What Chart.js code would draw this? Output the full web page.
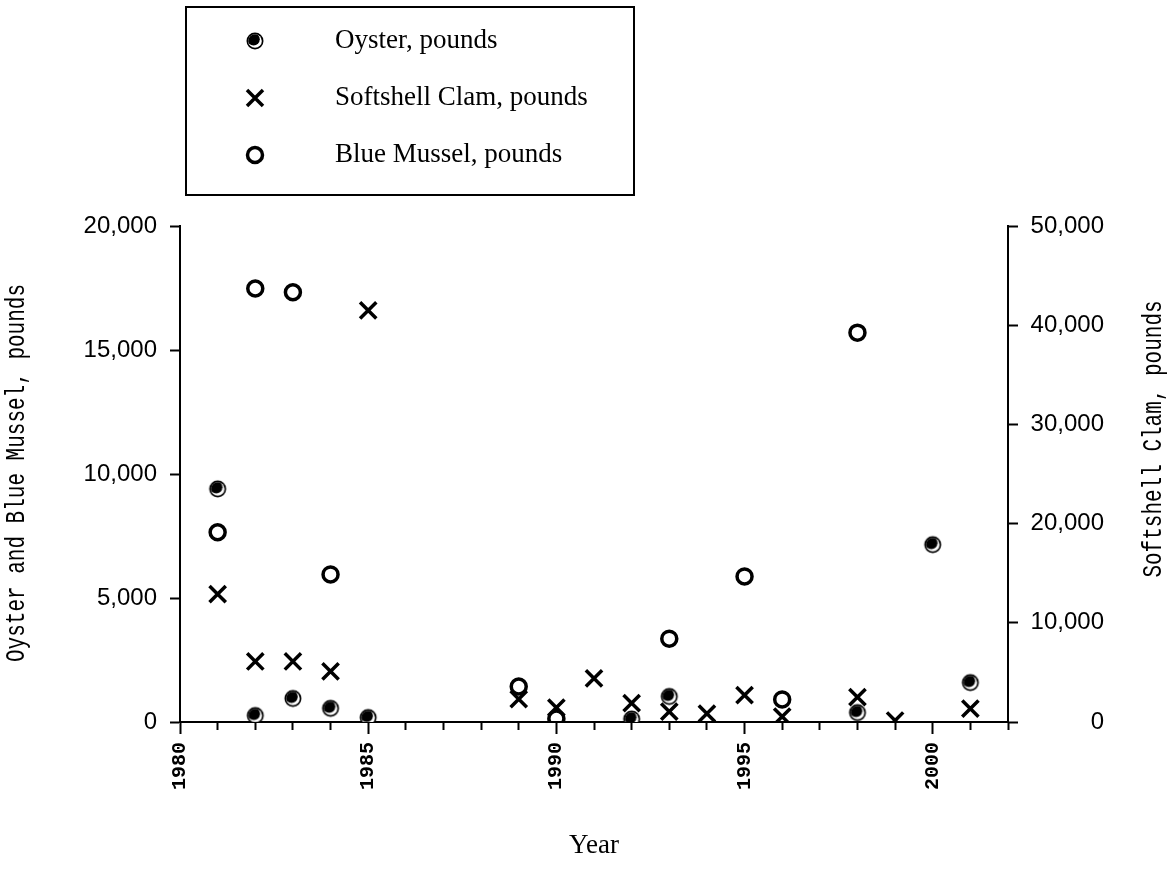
<!DOCTYPE html>
<html>
<head>
<meta charset="utf-8">
<title>Oyster, Softshell Clam and Blue Mussel</title>
<script src="https://cdn.jsdelivr.net/npm/chart.js@4.4.1/dist/chart.umd.min.js"></script>
<style>
  body { margin: 0; background: #fff; }
  #chart { display: block; }
</style>
</head>
<body>
<canvas id="chart" width="1170" height="890"></canvas>
<script>
// values (pounds per year)
const oysterYears = [1981, 1982, 1983, 1984, 1985, 1992, 1993, 1998, 2000, 2001];
const oysterLbs   = [9400, 260, 950, 550, 180, 120, 1030, 380, 7150, 1590];

const clamYears = [1981, 1982, 1983, 1984, 1985, 1989, 1990, 1991, 1992, 1993, 1994, 1995, 1996, 1998, 1999, 2001];
const clamLbs   = [12900, 6100, 6100, 5100, 41500, 2300, 1450, 4400, 1900, 1050, 850, 2700, 550, 2500, 150, 1350];

const musselYears = [1981, 1982, 1983, 1984, 1989, 1990, 1993, 1995, 1996, 1998];
const musselLbs   = [7650, 17480, 17330, 5950, 1430, 140, 3360, 5870, 910, 15700];

const seriesLabels = ['Oyster, pounds', 'Softshell Clam, pounds', 'Blue Mussel, pounds'];
const leftTitle = 'Oyster and Blue Mussel, pounds';
const rightTitle = 'Softshell Clam, pounds';

const toPoints = (xs, ys) => xs.map((x, i) => ({ x: x, y: ys[i] }));
const fmt = v => v.toLocaleString('en-US');

// half filled circle used for the oysters
function oysterMarker() {
  const c = document.createElement('canvas');
  c.width = 22; c.height = 22;
  const g = c.getContext('2d');
  g.fillStyle = '#000';
  g.beginPath(); g.arc(11, 11, 8.5, 0, Math.PI * 2); g.fill();
  g.save();
  g.beginPath(); g.arc(11, 11, 6.8, 0, Math.PI * 2); g.clip();
  g.fillStyle = '#fff'; g.fillRect(0, 0, 22, 22);
  g.fillStyle = '#000';
  g.beginPath(); g.arc(9.6, 9.3, 6.2, 0, Math.PI * 2); g.fill();
  g.restore();
  return c;
}
const oysterImg = oysterMarker();

function rotatedTitle(ctx, text, x, y) {
  ctx.save();
  ctx.translate(x, y);
  ctx.rotate(-Math.PI / 2);
  ctx.scale(1, 1.3);
  ctx.font = '21px "Liberation Mono"';
  ctx.fillStyle = '#000';
  ctx.textAlign = 'center';
  ctx.textBaseline = 'middle';
  ctx.fillText(text, 0, 0);
  ctx.restore();
}

// legend box + axis titles on the sides (drawn by hand)
const extras = {
  id: 'extras',
  afterDraw(chart) {
    const ctx = chart.ctx;
    ctx.save();
    ctx.strokeStyle = '#000';
    ctx.lineWidth = 2;
    ctx.strokeRect(186, 7, 448, 188);

    const rows = [41, 98, 155];
    const mx = 255;
    ctx.drawImage(oysterImg, mx - 11, rows[0] - 11);

    ctx.lineWidth = 3.5;
    ctx.beginPath();
    ctx.moveTo(mx - 8, rows[1] - 8); ctx.lineTo(mx + 8, rows[1] + 8);
    ctx.moveTo(mx + 8, rows[1] - 8); ctx.lineTo(mx - 8, rows[1] + 8);
    ctx.stroke();

    ctx.beginPath();
    ctx.arc(mx, rows[2], 7.5, 0, Math.PI * 2);
    ctx.stroke();

    ctx.fillStyle = '#000';
    ctx.font = '27px "Liberation Serif"';
    ctx.textAlign = 'left';
    ctx.textBaseline = 'middle';
    seriesLabels.forEach((t, i) => ctx.fillText(t, 335, rows[i]));
    ctx.restore();

    rotatedTitle(ctx, leftTitle, 17, 473);
    rotatedTitle(ctx, rightTitle, 1154, 439);
  }
};

const tickFont = { family: '"Liberation Sans"', size: 24 };

new Chart(document.getElementById('chart'), {
  type: 'scatter',
  data: {
    datasets: [
      {
        label: seriesLabels[0],
        data: toPoints(oysterYears, oysterLbs),
        yAxisID: 'y',
        pointStyle: oysterImg,
        pointRadius: 9
      },
      {
        label: seriesLabels[1],
        data: toPoints(clamYears, clamLbs),
        yAxisID: 'y2',
        pointStyle: 'crossRot',
        pointRadius: 11.5,
        borderWidth: 3.5,
        borderColor: '#000',
        backgroundColor: '#000'
      },
      {
        label: seriesLabels[2],
        data: toPoints(musselYears, musselLbs),
        yAxisID: 'y',
        pointStyle: 'circle',
        pointRadius: 7.5,
        borderWidth: 3.5,
        borderColor: '#000',
        backgroundColor: 'rgba(0,0,0,0)'
      }
    ]
  },
  options: {
    responsive: false,
    animation: false,
    devicePixelRatio: 1,
    layout: { padding: { top: 226, left: 0, right: 66, bottom: 0 } },
    plugins: { legend: { display: false }, tooltip: { enabled: false } },
    scales: {
      x: {
        type: 'linear',
        min: 1980,
        max: 2002,
        border: { color: '#000', width: 2 },
        grid: {
          drawOnChartArea: false,
          tickLength: 12,
          tickColor: '#000',
          tickWidth: 2,
          tickBorderDash: ctx => (ctx.tick && ctx.tick.value % 5 === 0) ? [] : [7, 30]
        },
        ticks: {
          stepSize: 1,
          autoSkip: false,
          minRotation: 90,
          maxRotation: 90,
          padding: 8,
          color: '#000',
          font: { family: '"Liberation Mono"', size: 20, weight: 'bold' },
          callback: v => v % 5 === 0 ? String(v) : ''
        },
        title: {
          display: true,
          text: 'Year',
          color: '#000',
          font: { family: '"Liberation Serif"', size: 27 },
          padding: { top: 4, bottom: 28 }
        },
        afterFit: s => { s.height = 168; }
      },
      y: {
        position: 'left',
        min: 0,
        max: 20000,
        border: { color: '#000', width: 2 },
        grid: { drawOnChartArea: false, tickLength: 10, tickColor: '#000', tickWidth: 2 },
        ticks: { stepSize: 5000, padding: 13, color: '#000', font: tickFont, callback: fmt },
        afterFit: s => { s.width = 180; }
      },
      y2: {
        position: 'right',
        min: 0,
        max: 50000,
        border: { color: '#000', width: 2 },
        grid: { drawOnChartArea: false, tickLength: 10, tickColor: '#000', tickWidth: 2 },
        ticks: { stepSize: 10000, padding: 12, crossAlign: 'far', color: '#000', font: tickFont, callback: fmt },
        afterFit: s => { s.width = 96; }
      }
    }
  },
  plugins: [extras]
});
</script>
</body>
</html>
